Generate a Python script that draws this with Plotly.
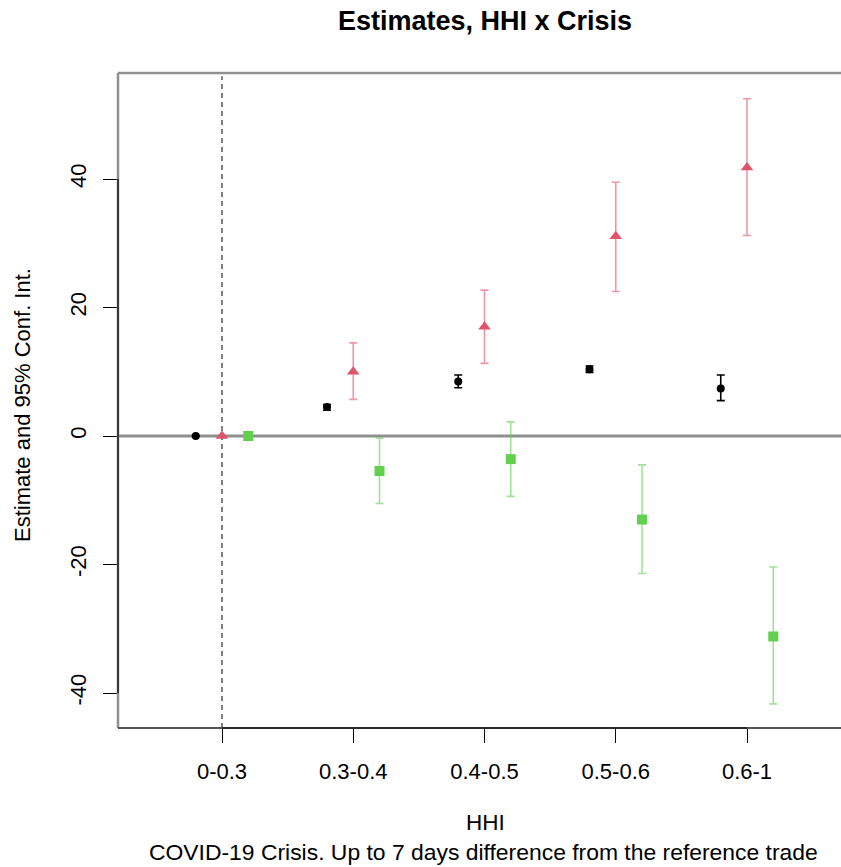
import plotly.graph_objects as go

# HHI bins on the x axis
categories = ["0-0.3", "0.3-0.4", "0.4-0.5", "0.5-0.6", "0.6-1"]
y_ticks = [-40, -20, 0, 20, 40]

# Series 1 (black, circles)
s1_est = [0.0, 4.5, 8.5, 10.4, 7.4]
s1_lo = [0.0, 4.0, 7.5, 9.9, 5.5]
s1_hi = [0.0, 4.9, 9.5, 10.9, 9.5]

# Series 2 (red, triangles)
s2_est = [0.0, 10.0, 17.0, 31.1, 41.8]
s2_lo = [0.0, 5.7, 11.3, 22.5, 31.2]
s2_hi = [0.0, 14.5, 22.7, 39.5, 52.5]

# Series 3 (green, squares)
s3_est = [0.0, -5.45, -3.6, -13.0, -31.2]
s3_lo = [0.0, -10.5, -9.4, -21.4, -41.7]
s3_hi = [0.0, -0.36, 2.2, -4.5, -20.4]

FONT = "Liberation Sans, Arial, Helvetica, sans-serif"
pos = list(range(1, len(categories) + 1))

W, H = 841, 867
L, R, T, B = 118, 0, 73, 139
plot_w = W - L - R
plot_h = H - T - B


def px_x(px):
    return (px - L) / plot_w


def px_y(py):
    return (H - B - py) / plot_h


def series(est, lo, hi, offset, color, bar_color, symbol, size, cap):
    return go.Scatter(
        x=[p + offset for p in pos],
        y=est,
        mode="markers",
        marker=dict(symbol=symbol, size=size, color=color, line=dict(width=0)),
        error_y=dict(
            type="data",
            symmetric=False,
            array=[h - e for h, e in zip(hi, est)],
            arrayminus=[e - l for e, l in zip(est, lo)],
            color=bar_color,
            thickness=1.6,
            width=cap,
        ),
        showlegend=False,
        cliponaxis=False,
    )


fig = go.Figure()
fig.add_trace(series(s1_est, s1_lo, s1_hi, -0.2, "black", "black", "circle", 8, 4))
fig.add_trace(series(s2_est, s2_lo, s2_hi, 0.0, "#DF536B", "rgba(223,83,107,0.6)",
                     "triangle-up", 11, 4))
fig.add_trace(series(s3_est, s3_lo, s3_hi, 0.2, "#61D04F", "rgba(97,208,79,0.6)",
                     "square", 10, 4))

gray = "#8f8f8f"
shapes = [
    # zero reference line
    dict(type="line", xref="paper", yref="y", x0=0, x1=1, y0=0, y1=0,
         line=dict(color=gray, width=3), layer="below"),
    # reference category marker
    dict(type="line", xref="x", yref="paper", x0=1, x1=1, y0=0, y1=0.995,
         line=dict(color="black", width=1, dash="5px,4px"), layer="below"),
    # plot box
    dict(type="line", xref="paper", yref="paper", x0=0, x1=1, y0=1, y1=1,
         line=dict(color=gray, width=2.5)),
    dict(type="line", xref="paper", yref="paper", x0=0, x1=0, y0=0, y1=1,
         line=dict(color=gray, width=2.5)),
    dict(type="line", xref="paper", yref="paper", x0=0, x1=1, y0=0, y1=0,
         line=dict(color="#555555", width=2)),
    # axis lines spanning the ticks
    dict(type="line", xref="paper", yref="y", x0=0, x1=0, y0=y_ticks[0], y1=y_ticks[-1],
         line=dict(color="black", width=1.2)),
    dict(type="line", xref="x", yref="paper", x0=pos[0], x1=pos[-1], y0=0, y1=0,
         line=dict(color="black", width=1.2)),
]

annotations = [
    dict(text="<b>Estimates, HHI x Crisis</b>", xref="paper", yref="paper",
         x=px_x(485), y=px_y(21), xanchor="center", yanchor="middle",
         showarrow=False, font=dict(size=27, color="black", family=FONT)),
    dict(text="HHI", xref="paper", yref="paper",
         x=px_x(485), y=px_y(822), xanchor="center", yanchor="middle",
         showarrow=False, font=dict(size=22.5, color="black", family=FONT)),
    dict(text="COVID-19 Crisis. Up to 7 days difference from the reference trade",
         xref="paper", yref="paper",
         x=px_x(483), y=px_y(852), xanchor="center", yanchor="middle",
         showarrow=False, font=dict(size=22.9, color="black", family=FONT)),
    dict(text="Estimate and 95% Conf. Int.", xref="paper", yref="paper",
         x=px_x(22), y=px_y(405), xanchor="center", yanchor="middle", textangle=-90,
         showarrow=False, font=dict(size=22, color="black", family=FONT)),
]

x0 = 1 - (222 - L) / 131.25
x1 = 1 + (W - 222) / 131.25
y_top = (436 - T) / 6.425
y_bot = -(H - B - 436) / 6.425

fig.update_layout(
    width=W, height=H,
    margin=dict(l=L, r=R, t=T, b=B, pad=0),
    paper_bgcolor="white", plot_bgcolor="white",
    font=dict(family=FONT, size=22, color="black"),
    shapes=shapes,
    annotations=annotations,
    xaxis=dict(
        range=[x0, x1], tickmode="array", tickvals=pos, ticktext=categories,
        ticks="outside", ticklen=14, tickwidth=1, tickcolor="black",
        showgrid=False, zeroline=False, showline=False,
        tickfont=dict(size=22, color="black", family=FONT),
        ticklabelstandoff=10,
    ),
    yaxis=dict(
        range=[y_bot, y_top], tickmode="array", tickvals=y_ticks,
        ticktext=[str(v) for v in y_ticks],
        ticks="outside", ticklen=14, tickwidth=1, tickcolor="black",
        showgrid=False, zeroline=False, showline=False, tickangle=-90,
        tickfont=dict(size=22, color="black", family=FONT),
        ticklabelstandoff=8,
    ),
)

fig.write_html("out.html")
